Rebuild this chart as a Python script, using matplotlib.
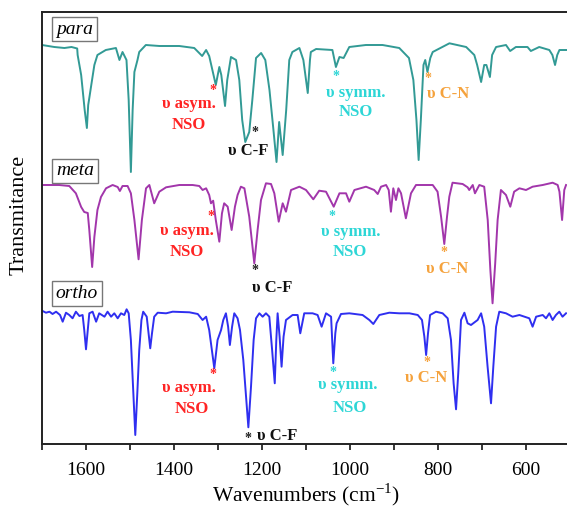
import matplotlib
matplotlib.use('Agg')
import matplotlib.pyplot as plt
from matplotlib.ticker import MultipleLocator

plt.rcParams['font.family'] = ['Liberation Serif', 'DejaVu Serif']
plt.rcParams['mathtext.fontset'] = 'custom'
plt.rcParams['mathtext.rm'] = 'Liberation Serif'

# para (stacked, arbitrary units)
para_wn = [1700, 1672, 1649, 1633, 1620, 1619, 1611, 1603, 1598, 1595, 1592.5, 1588, 1581, 1574, 1555,
           1532, 1524, 1517, 1508, 1503, 1498, 1494, 1490, 1483, 1479, 1464, 1433, 1388, 1354, 1336,
           1327, 1320, 1305, 1297, 1292.5, 1284, 1279, 1270.5, 1259, 1251.6, 1245, 1238, 1229, 1222,
           1213.6, 1202, 1192.5, 1183, 1174, 1167, 1161, 1153, 1145, 1138, 1131, 1115, 1106, 1096,
           1091, 1089, 1077, 1040, 1032, 1024, 1014.5, 1001.6, 964, 926, 888, 866, 856, 849, 844, 839,
           833, 829, 824, 817.5, 812, 774, 736, 717.5, 711, 702, 695, 690, 682, 677, 668, 645.5, 636,
           623, 596.6, 589, 570, 547, 540, 534, 529, 524, 508]
para_y = [399, 397, 396, 397, 395.5, 389, 369, 334, 316, 339, 346, 359, 379, 389, 394,
          396, 384, 392, 384, 344, 272, 334, 372, 384, 392, 399, 398, 398, 396, 388,
          394, 388, 359, 377, 369, 338, 364, 387, 384, 364, 324, 302, 312, 344,
          386, 391, 384, 354, 314, 282, 322, 289, 334, 384, 392, 396, 384, 351,
          384, 392, 395, 394, 377, 387, 386, 397, 399, 399, 396, 386, 364, 324, 284, 324,
          379, 384, 372, 386, 392, 400.7, 397, 389, 379, 362, 379, 379, 367, 389, 397, 399, 393,
          397, 397, 393, 397, 394, 389, 379, 389, 394, 394]

meta_wn = [1700, 1661, 1638, 1623, 1611, 1604, 1596, 1592.5, 1586, 1581, 1574, 1566, 1554.5, 1539.5,
           1528, 1523, 1517, 1505.5, 1498, 1490, 1480.5, 1473, 1463.6, 1456, 1445, 1433.4, 1418, 1388,
           1357.7, 1342.5, 1335, 1327, 1320, 1316, 1311, 1305, 1297, 1291, 1286, 1278, 1269, 1261.5,
           1255.5, 1248, 1240, 1229, 1217.5, 1210, 1202.3, 1191, 1179.5, 1172, 1162, 1153, 1145.5,
           1134, 1115, 1100, 1083.4, 1070, 1054.5, 1037, 1024, 1009, 1001.6, 990, 963.6, 945, 937,
           929.5, 918, 912, 907, 901.6, 895.5, 890, 884, 873, 861.4, 850, 812, 801, 793, 785.7, 779.5,
           774.3, 767, 744, 732.7, 729, 721, 716, 706, 695, 687, 681, 676, 670, 664.5, 657, 645.5,
           635.7, 627, 615, 600, 585, 562, 539.5, 528, 524, 518, 513, 509]
meta_y = [259, 259, 258, 250.7, 237, 232, 231, 214, 177, 207, 234, 247, 255.7, 259,
          257, 253, 258, 258, 250.7, 224, 184.7, 224, 255.7, 259, 240.7, 252.3, 256.7, 259,
          259, 258, 254, 255.7, 249, 240.7, 243.3, 224, 202.3, 230.7, 240.7, 237.3, 214, 237.3,
          249, 257.3, 255.7, 227.3, 180.7, 214, 244, 260.7, 260, 250.7, 222.3, 240.7, 232.3,
          254, 257.3, 254, 244.7, 253.3, 252.3, 237.3, 250.7, 250.7, 242.3, 254, 257.3, 254, 250,
          257.3, 259, 254, 232.3, 255.7, 244, 255.7, 250.7, 225.7, 250.7, 259, 259, 252.3, 227.3, 200, 227.3,
          247.3, 261.3, 260, 256.7, 254, 259, 250.7, 259, 257.3, 224, 174, 140.7, 180.7, 224, 254, 249,
          237.3, 252.3, 255.7, 254, 257.3, 259, 261.3, 259, 252.3, 224, 254, 259]

ortho_wn = [1700, 1691, 1683, 1676, 1668, 1659, 1653, 1645.5, 1638, 1630.5, 1623, 1615, 1607.7, 1604,
            1600, 1596, 1592.5, 1585, 1577, 1570, 1558, 1551, 1543, 1535.7, 1528, 1520.5, 1513,
            1507.7, 1503, 1498, 1492.5, 1488, 1483.4, 1479, 1474, 1470, 1462, 1457.7, 1454, 1450,
            1445, 1437, 1418, 1403, 1365, 1346, 1335, 1327, 1320, 1308.4, 1301, 1293, 1288, 1282,
            1277, 1273, 1268, 1263, 1255.5, 1250, 1242.5, 1231, 1225, 1219, 1213.6, 1206, 1198.6,
            1191, 1183.4, 1177, 1171, 1167.5, 1164.5, 1160, 1155.5, 1151, 1145.5, 1130.5, 1119,
            1113, 1104, 1085, 1073.6, 1064.5, 1054.5, 1043, 1038, 1033.4, 1030.5, 1020.5, 1001.6,
            971.4, 956, 947, 933.4, 910.7, 888, 865, 846, 836.4, 831, 827, 822.7, 818, 804.5, 789.5,
            778, 770.5, 764.5, 759, 754, 747.7, 740, 732.7, 725, 710, 702, 695, 687.3, 679.5, 674.3,
            668, 660.7, 645.5, 630.5, 615, 592.5, 585, 577, 562, 554.5, 547, 539.5, 532, 524.3, 517, 509]
ortho_y = [133.3, 131.3, 132.3, 130, 132.3, 129, 122.3, 131.3, 129, 125.7, 132.3, 128, 129, 114,
           94.7, 114, 130.7, 132.3, 122.3, 130.7, 127.3, 132.3, 127.3, 130.7, 125.7, 130.7, 129,
           134.7, 130.7, 104, 50.7, 9, 50.7, 94, 124, 132.3, 127.3, 110.7, 95.7, 110.7,
           127.3, 131.3, 130.7, 132.3, 131.7, 130, 124, 127.3, 114, 75.7, 104, 114, 124, 130.7,
           117.3, 99, 117.3, 130.7, 125.7, 114, 84, 16.7, 57.3, 104, 125.7, 130.7, 127.3,
           130.7, 127.3, 94, 60.7, 104, 130.7, 107.3, 77.3, 107.3, 124, 129, 129,
           110.7, 130.7, 130.7, 129, 117.3, 130.7, 127.3, 80.7, 110.7, 120.7, 130, 130.7,
           129, 124, 120, 129, 131.3, 130.7, 130.7, 129, 124, 107.3, 89, 110.7, 129, 132.3, 130.7,
           125.7, 104, 60.7, 34.7, 70.7, 124, 131.3, 120.7, 119, 124, 130.7, 117.3, 77.3, 40.7, 77.3,
           117.3, 132.3, 130.7, 127.3, 129, 125.7, 117.3, 127.3, 129, 125.7, 130.7, 124, 129, 132.3, 127.3, 130.7]

trace_names = ['para', 'meta', 'ortho']
trace_colors = ['#329a95', '#a236ab', '#2f2ff0']

# band labels: (text, wavenumber, y, colour)
band_labels = [
    ('*', 1311, 353, '#ff2424'), ('υ asym.', 1367, 340, '#ff2424'), ('NSO', 1367, 319, '#ff2424'),
    ('*', 1215, 312, '#222222'), ('υ C-F', 1231, 293, '#111111'),
    ('*', 1031, 367, '#2ed6d6'), ('υ symm.', 986, 351, '#2ed6d6'), ('NSO', 986, 332, '#2ed6d6'),
    ('*', 822, 366, '#f5a23c'),
    ('*', 1317, 228, '#ff2424'), ('υ asym.', 1370, 213, '#ff2424'), ('NSO', 1370, 192, '#ff2424'),
    ('*', 1215, 173, '#222222'), ('υ C-F', 1176, 156, '#111111'),
    ('*', 1040, 228, '#2ed6d6'), ('υ symm.', 999, 212, '#2ed6d6'), ('NSO', 1001, 192, '#2ed6d6'),
    ('*', 786, 191, '#f5a23c'), ('υ C-N', 779, 175, '#f5a23c'),
    ('*', 1311, 70, '#ff2424'), ('υ asym.', 1365, 56, '#ff2424'), ('NSO', 1360, 35, '#ff2424'),
    ('*', 1233, 5, '#222222'), ('υ C-F', 1165, 8, '#111111'),
    ('*', 1038, 72, '#2ed6d6'), ('υ symm.', 1006, 59, '#2ed6d6'), ('NSO', 1001, 36, '#2ed6d6'),
    ('*', 826, 81, '#f5a23c'), ('υ C-N', 826, 66, '#f5a23c'),
]

fig = plt.figure(figsize=(5.67, 5.13), dpi=100)
ax = fig.add_axes([42 / 567, 69 / 513, 528 / 567, 432 / 513])

for wn, y, c in [(para_wn, para_y, trace_colors[0]), (meta_wn, meta_y, trace_colors[1]),
                 (ortho_wn, ortho_y, trace_colors[2])]:
    ax.plot(wn, y, color=c, lw=1.4, solid_joinstyle='round')

for txt, x, y, c in band_labels:
    fs = 10 if txt == '*' else 12
    ax.text(x, y, txt, color=c, fontsize=fs, fontweight='bold', ha='center', va='center')
# the para C-N label sits to the right of its asterisk
ax.text(825, 350, 'υ C-N', color='#f5a23c', fontsize=12, fontweight='bold', ha='left', va='center')

for name, yy in zip(trace_names, [0.9606, 0.632, 0.348]):
    ax.text(0.062 + (0.004 if name == 'ortho' else 0), yy, name, transform=ax.transAxes, fontsize=14,
            style='italic', ha='center', va='center',
            bbox=dict(boxstyle='square,pad=0.2', fc='white', ec='#777777', lw=1.0))

ax.set_xlim(1700, 500)
ax.set_ylim(0, 432)
ax.xaxis.set_major_locator(MultipleLocator(200))
ax.xaxis.set_minor_locator(MultipleLocator(100))
ax.set_yticks([])
ax.tick_params(axis='x', which='both', direction='out', length=4, width=1.1, labelsize=14, pad=9)
ax.spines['right'].set_visible(False)
for s in ['top', 'left', 'bottom']:
    ax.spines[s].set_linewidth(1.4)
    ax.spines[s].set_color('#222222')
ax.set_xlabel('Wavenumbers (cm$^{-1}$)', fontsize=15.5, labelpad=2)
fig.text(19 / 567, 1 - 215 / 513, 'Transmitance', rotation=90, fontsize=16, ha='center', va='center')

fig.savefig('out.png', dpi=100)
